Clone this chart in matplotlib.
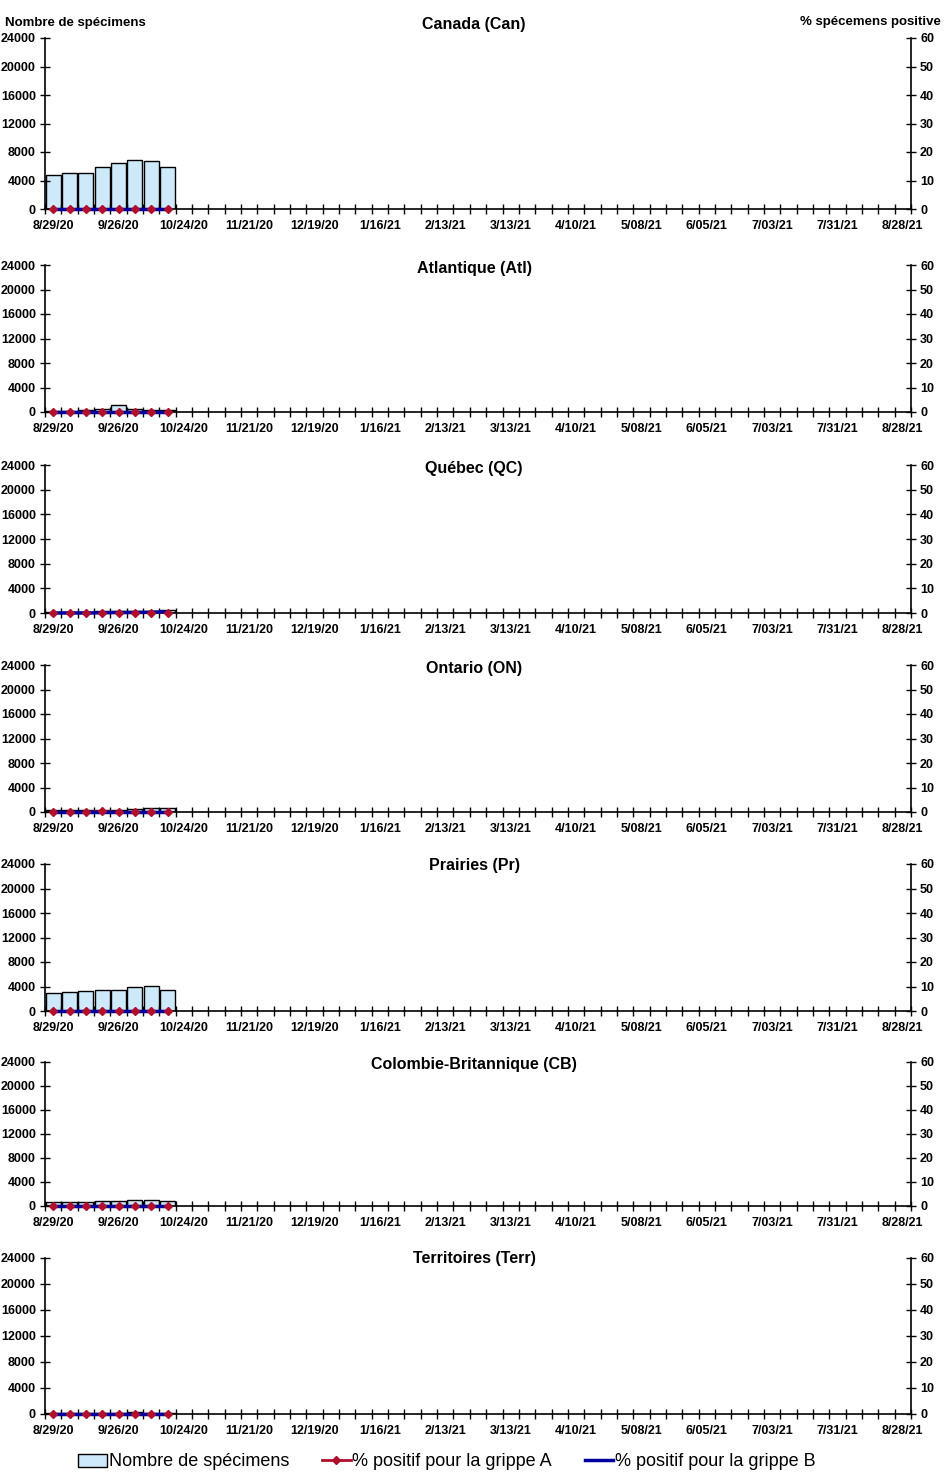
import numpy as np
import matplotlib.pyplot as plt
from matplotlib.lines import Line2D
from matplotlib.patches import Patch

plt.rcParams['font.family'] = ['Liberation Sans', 'DejaVu Sans']

# --- données ---
n_weeks = 53
date_labels = ['8/29/20', '9/26/20', '10/24/20', '11/21/20', '12/19/20', '1/16/21', '2/13/21',
               '3/13/21', '4/10/21', '5/08/21', '6/05/21', '7/03/21', '7/31/21', '8/28/21']

regions = ['Canada (Can)', 'Atlantique (Atl)', 'Québec (QC)', 'Ontario (ON)',
           'Prairies (Pr)', 'Colombie-Britannique (CB)', 'Territoires (Terr)']

can_n = [4800, 5050, 5050, 5900, 6450, 6900, 6750, 5900]
atl_n = [150, 200, 250, 450, 1100, 450, 350, 300]
qc_n = [150, 150, 200, 250, 300, 350, 400, 450]
on_n = [300, 300, 350, 400, 400, 450, 700, 700]
pr_n = [2950, 3100, 3300, 3450, 3450, 3950, 4100, 3450]
cb_n = [700, 700, 700, 850, 850, 1050, 1050, 850]
terr_n = [100, 100, 100, 100, 150, 300, 200, 100]
specimens = [can_n, atl_n, qc_n, on_n, pr_n, cb_n, terr_n]

can_a = [0, 0, 0, 0, 0, 0, 0, 0]
atl_a = [0, 0, 0, 0, 0, 0, 0, 0]
qc_a = [0, 0, 0, 0, 0, 0, 0, 0]
on_a = [0, 0, 0, 0.4, 0, 0, 0, 0]
pr_a = [0, 0, 0, 0, 0, 0, 0, 0]
cb_a = [0, 0, 0, 0, 0, 0, 0, 0]
terr_a = [0, 0, 0, 0, 0, 0, 0, 0]
pct_a = [can_a, atl_a, qc_a, on_a, pr_a, cb_a, terr_a]

can_b = [0, 0, 0, 0, 0, 0, 0, 0]
atl_b = [0, 0, 0, 0, 0, 0, 0, 0]
qc_b = [0, 0, 0, 0.1, 0.2, 0.2, 0.3, 0.5]
on_b = [0, 0, 0, 0, 0, 0, 0, 0]
pr_b = [0, 0, 0, 0, 0, 0, 0, 0]
cb_b = [0, 0, 0, 0, 0, 0, 0, 0]
terr_b = [0, 0, 0, 0, 0, 0, 0, 0]
pct_b = [can_b, atl_b, qc_b, on_b, pr_b, cb_b, terr_b]

# --- mise en page (pixels) ---
W, H = 946, 1475
boxes = [(38, 209), (265, 412), (465, 613), (665, 812), (864, 1011), (1062, 1206), (1258, 1414)]
title_y = [25, 269, 469, 668, 866, 1065, 1259]
x_left, x_right = 45, 911

bar_col = '#CDE9FA'
red = '#B0102C'
blue = '#0000A0'
tick_font = dict(fontsize=9, fontweight='bold')

fig = plt.figure(figsize=(W / 100, H / 100), dpi=100)

for i, name in enumerate(regions):
    top, bot = boxes[i]
    ax = fig.add_axes([x_left / W, 1 - bot / H, (x_right - x_left) / W, (bot - top) / H])
    ax2 = ax.twinx()
    ax.set_zorder(ax2.get_zorder() - 1)
    ax.patch.set_visible(True)
    ax2.patch.set_visible(False)

    vals = specimens[i]
    x = np.arange(len(vals))
    ax.bar(x, vals, width=0.92, color=bar_col, edgecolor='black', linewidth=1.0)
    ax2.plot(x, pct_a[i], color=red, lw=1.5, zorder=3, clip_on=False)
    ax2.plot(x, pct_b[i], color=blue, lw=2.5, zorder=4, clip_on=False)
    ax2.plot(x, pct_a[i], ls='none', marker='D', ms=4.5, color=red, zorder=5, clip_on=False)

    ax.set_xlim(-0.5, n_weeks - 0.5)
    ax.set_ylim(0, 24000)
    ax2.set_ylim(0, 60)
    ax.set_yticks(np.arange(0, 24001, 4000))
    ax2.set_yticks(np.arange(0, 61, 10))

    ax.set_xticks(np.arange(-0.5, n_weeks, 1.0))
    ax.set_xticklabels([])
    ax.set_xticks(np.arange(0, n_weeks, 4), minor=True)
    ax.set_xticklabels(date_labels, minor=True, **tick_font)
    ax.tick_params(axis='x', which='major', direction='inout', length=7, width=1)
    ax.tick_params(axis='x', which='minor', length=0, pad=8)
    ax.tick_params(axis='y', direction='inout', length=7, width=1, pad=3)
    ax2.tick_params(axis='y', direction='inout', length=7, width=1, pad=3)
    for lab in ax.get_yticklabels() + ax2.get_yticklabels():
        lab.set_fontsize(9)
        lab.set_fontweight('bold')

    for a in (ax, ax2):
        a.spines['top'].set_visible(False)
        for s in ('left', 'right', 'bottom'):
            a.spines[s].set_linewidth(1.2)
    ax.spines['right'].set_visible(False)
    ax2.spines['left'].set_visible(False)
    ax2.spines['bottom'].set_visible(False)

    fig.text(474 / W, 1 - title_y[i] / H, name, ha='center', va='center',
             fontsize=11.5, fontweight='bold')

fig.text(5 / W, 1 - 23 / H, 'Nombre de spécimens', ha='left', va='center',
         fontsize=9.5, fontweight='bold')
fig.text(941 / W, 1 - 22 / H, '% spécemens positive', ha='right', va='center',
         fontsize=9.5, fontweight='bold')

handles = [Patch(facecolor=bar_col, edgecolor='black', linewidth=1.0),
           Line2D([], [], color=red, lw=2, marker='D', ms=4),
           Line2D([], [], color=blue, lw=2.5)]
labels = ['Nombre de spécimens', '% positif pour la grippe A', '% positif pour la grippe B']
fig.legend(handles, labels, loc='center', bbox_to_anchor=(447 / W, 1 - 1462 / H), ncol=3,
           frameon=False, fontsize=13, handlelength=1.6, handletextpad=0.1, columnspacing=1.8)

fig.savefig('out.png', dpi=100)
